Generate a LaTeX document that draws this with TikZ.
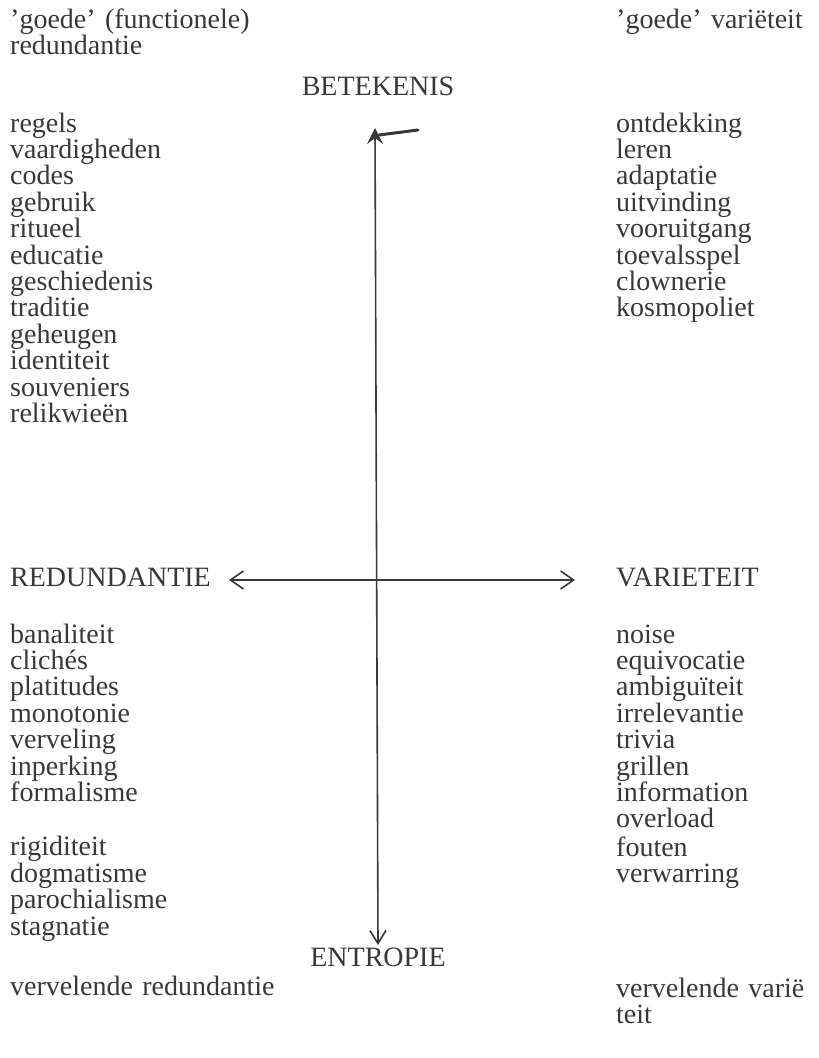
\documentclass[tikz,border=0pt]{standalone}
\usepackage{fontspec}
\setmainfont{Liberation Serif}
\usetikzlibrary{arrows.meta,positioning}
\definecolor{inkgray}{gray}{0.22}

\begin{document}
\begin{tikzpicture}[
  x=1pt, y=1pt,
  node distance=0pt,
  font=\fontsize{28}{30}\selectfont,
  word/.style={text=inkgray, inner sep=0pt, text height=19pt, text depth=7pt, text width=300pt, align=left},
  head/.style={text=inkgray, inner sep=0pt, text height=19pt, text depth=7pt},
  axis/.style={draw=inkgray, line width=1.6pt, {Straight Barb[length=13pt,width=18pt]}-{Straight Barb[length=13pt,width=18pt]}},
  vaxis/.style={draw=inkgray, line width=1.6pt, {Straight Barb[length=13pt,width=16pt]}-{Stealth[length=16pt,width=16pt,inset=6pt]}},
  scribble/.style={draw=inkgray, line width=3pt, line cap=round}
]
\useasboundingbox (0,0) rectangle (819,-1058);

% upper left
\node[word, anchor=base west] (goedefunc) at (10,-28) {'goede' (functionele)};
\node[word, below=of goedefunc] (goedered) {redundantie};
\node[word, anchor=base west] (regels) at (10,-132) {regels};
\node[word, below=of regels] (vaardig) {vaardigheden};
\node[word, below=of vaardig] (codes) {codes};
\node[word, below=of codes] (gebruik) {gebruik};
\node[word, below=of gebruik] (ritueel) {ritueel};
\node[word, below=of ritueel] (educatie) {educatie};
\node[word, below=of educatie] (geschied) {geschiedenis};
\node[word, below=of geschied] (traditie) {traditie};
\node[word, below=of traditie] (geheugen) {geheugen};
\node[word, below=of geheugen] (identiteit) {identiteit};
\node[word, below=of identiteit] (souveniers) {souveniers};
\node[word, below=of souveniers] (relikwie) {relikwieën};

% upper right
\node[word, anchor=base west] (goedevar) at (616,-28) {'goede' variëteit};
\node[word, anchor=base west] (ontdekking) at (616,-132) {ontdekking};
\node[word, below=of ontdekking] (leren) {leren};
\node[word, below=of leren] (adaptatie) {adaptatie};
\node[word, below=of adaptatie] (uitvinding) {uitvinding};
\node[word, below=of uitvinding] (vooruit) {vooruitgang};
\node[word, below=of vooruit] (toeval) {toevalsspel};
\node[word, below=of toeval] (clown) {clownerie};
\node[word, below=of clown] (kosmo) {kosmopoliet};

% axes labels
\node[head, anchor=base] (betekenis) at (378,-95) {BETEKENIS};
\node[head, anchor=base] (entropie) at (378,-966) {ENTROPIE};
\node[head, anchor=base west] (redund) at (10,-586) {REDUNDANTIE};
\node[head, anchor=base west] (variet) at (616,-586) {VARIETEIT};

% lower left
\node[word, anchor=base west] (banal) at (10,-643) {banaliteit};
\node[word, below=of banal] (cliches) {clichés};
\node[word, below=of cliches] (platitude) {platitudes};
\node[word, below=of platitude] (monotonie) {monotonie};
\node[word, below=of monotonie] (verveling) {verveling};
\node[word, below=of verveling] (inperking) {inperking};
\node[word, below=of inperking] (formal) {formalisme};
\node[word, below=28pt of formal] (rigide) {rigiditeit};
\node[word, below=of rigide] (dogma) {dogmatisme};
\node[word, below=of dogma] (paroch) {parochialisme};
\node[word, below=of paroch] (stagnatie) {stagnatie};

% lower right
\node[word, anchor=base west] (noise) at (616,-643) {noise};
\node[word, below=of noise] (equivoc) {equivocatie};
\node[word, below=of equivoc] (ambigu) {ambiguïteit};
\node[word, below=of ambigu] (irrelev) {irrelevantie};
\node[word, below=of irrelev] (trivia) {trivia};
\node[word, below=of trivia] (grillen) {grillen};
\node[word, below=of grillen] (inform) {information};
\node[word, below=of inform] (overload) {overload};
\node[word, below=2pt of overload] (fouten) {fouten};
\node[word, below=of fouten] (verwar) {verwarring};

% bottom
\node[word, anchor=base west] (vervred) at (10,-995) {vervelende redundantie};
\node[word, anchor=base west] (vervvar) at (616,-997) {vervelende varië};
\node[word, below=of vervvar] (teit) {teit};

% axes
\draw[vaxis] ([yshift=21pt]entropie.base) -- ([xshift=-3pt,yshift=-33pt]betekenis.base);
\draw[scribble] ([xshift=1pt,yshift=-40pt]betekenis.base) .. controls ([xshift=20pt,yshift=-38pt]betekenis.base) .. ([xshift=40pt,yshift=-35pt]betekenis.base);
\draw[axis, shorten <=18pt, shorten >=41pt] (redund.east) -- (variet.west);

\end{tikzpicture}
\end{document}
